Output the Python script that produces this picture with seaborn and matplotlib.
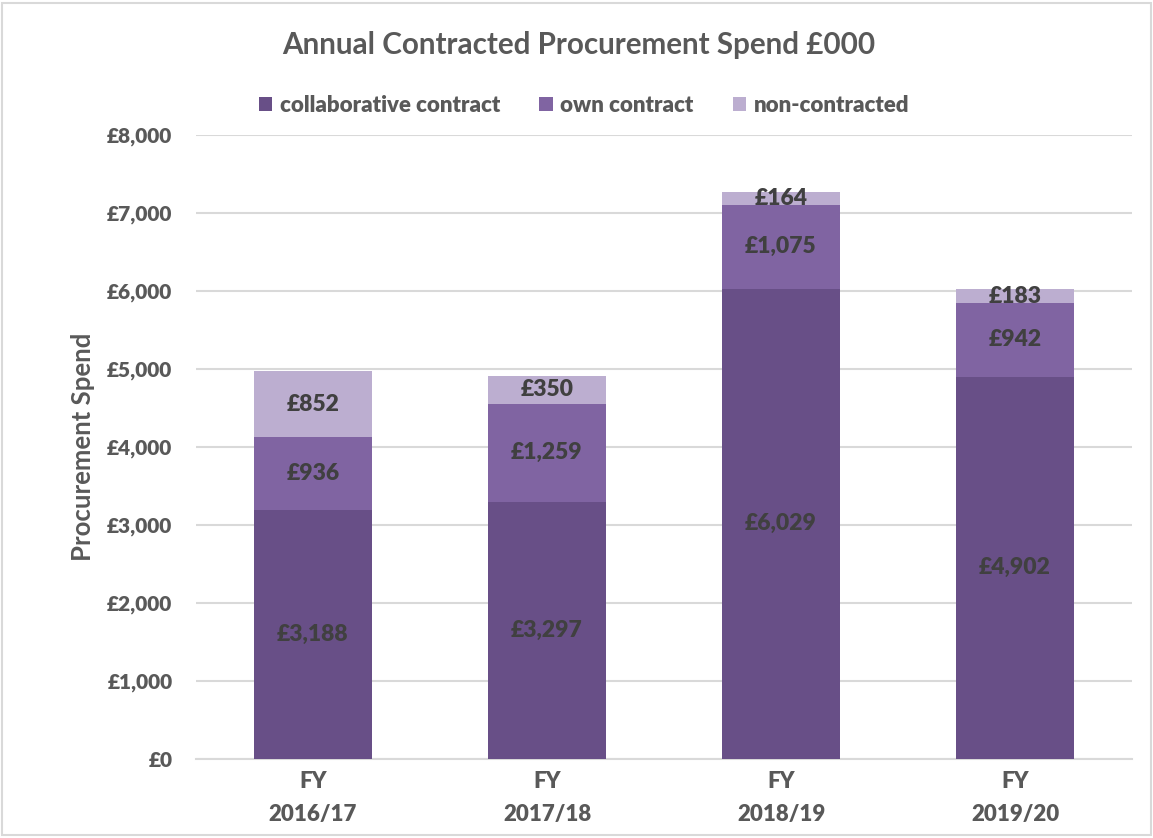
import numpy as np
import pandas as pd
import matplotlib
matplotlib.use('Agg')
import matplotlib.pyplot as plt
import seaborn as sns
from matplotlib.patches import Rectangle

# Chart data (£000)
years = ['FY\n2016/17', 'FY\n2017/18', 'FY\n2018/19', 'FY\n2019/20']
collaborative = [3188, 3297, 6029, 4902]
own_contract = [936, 1259, 1075, 942]
non_contracted = [852, 350, 164, 183]
series_names = ['collaborative contract', 'own contract', 'non-contracted']
series_colors = ['#684f87', '#8064a2', '#bcaed0']

sns.set_style('white')
plt.rcParams['font.family'] = ['Lato', 'DejaVu Sans']

text_grey = '#595959'
label_grey = '#404040'

df = pd.DataFrame({
    'year': years,
    'collab': collaborative,
    'own': own_contract,
    'non': non_contracted,
})
df['level1'] = df['collab']
df['level2'] = df['collab'] + df['own']
df['level3'] = df['level2'] + df['non']

fig = plt.figure(figsize=(11.53, 8.38), dpi=100)
ax = fig.add_axes([0.170, 0.0943, 0.8118, 0.7446])

# draw stacked bars as overlapping cumulative totals
for col, name, color in zip(['level3', 'level2', 'level1'], series_names[::-1], series_colors[::-1]):
    sns.barplot(data=df, x='year', y=col, color=color, width=0.505,
                saturation=1, ax=ax, label=name, edgecolor='none', zorder=3)

# segment labels, centred in each segment
for i in range(len(years)):
    bottoms = [0, collaborative[i], collaborative[i] + own_contract[i]]
    vals = [collaborative[i], own_contract[i], non_contracted[i]]
    for b, v in zip(bottoms, vals):
        ax.text(i, b + v / 2, f'£{v:,}', ha='center', va='center',
                fontsize=16.5, fontweight='heavy', color=label_grey, zorder=5)

ax.set_ylim(0, 8000)
ax.set_xlim(-0.5, 3.5)
ax.set_yticks(np.arange(0, 8001, 1000))
ax.set_yticklabels([f'£{int(t):,}' for t in np.arange(0, 8001, 1000)])
ax.yaxis.grid(True, color='#d9d9d9', linewidth=1.5, zorder=0)
ax.set_axisbelow(True)
for s in ['top', 'right', 'left']:
    ax.spines[s].set_visible(False)
ax.spines['bottom'].set_color('#d9d9d9')
ax.spines['bottom'].set_linewidth(1.5)
ax.tick_params(axis='y', length=0, labelsize=15, labelcolor=text_grey, pad=17)
ax.tick_params(axis='x', length=0, labelsize=16, labelcolor=text_grey, pad=9)
for lbl in ax.get_xticklabels() + ax.get_yticklabels():
    lbl.set_fontweight('heavy')
for lbl in ax.get_xticklabels():
    lbl.set_linespacing(1.65)
ax.set_xlabel('')
ax.set_ylabel('Procurement Spend', fontsize=18.5, fontweight='bold',
              color=text_grey, labelpad=9)

# legend in series order
handles, labels = ax.get_legend_handles_labels()
order = [labels.index(n) for n in series_names]
if ax.legend_:
    ax.legend_.remove()
fig.legend([handles[k] for k in order], [labels[k] for k in order],
           loc='center', bbox_to_anchor=(0.5065, 0.874), ncol=3, frameon=False,
           prop={'size': 16, 'weight': 'heavy'}, handlelength=0.6, handleheight=0.6,
           handletextpad=0.35, columnspacing=1.75, labelcolor=text_grey)

fig.text(0.502, 0.946, 'Annual Contracted Procurement Spend £000', ha='center', va='center',
         fontsize=21.3, color=text_grey, fontweight='bold')

# light frame around the chart area
fig.patches.append(Rectangle((0.002, 0.003), 0.996, 0.994, transform=fig.transFigure,
                             fill=False, edgecolor='#d9d9d9', linewidth=1.5))

fig.savefig('out.png', dpi=100)
